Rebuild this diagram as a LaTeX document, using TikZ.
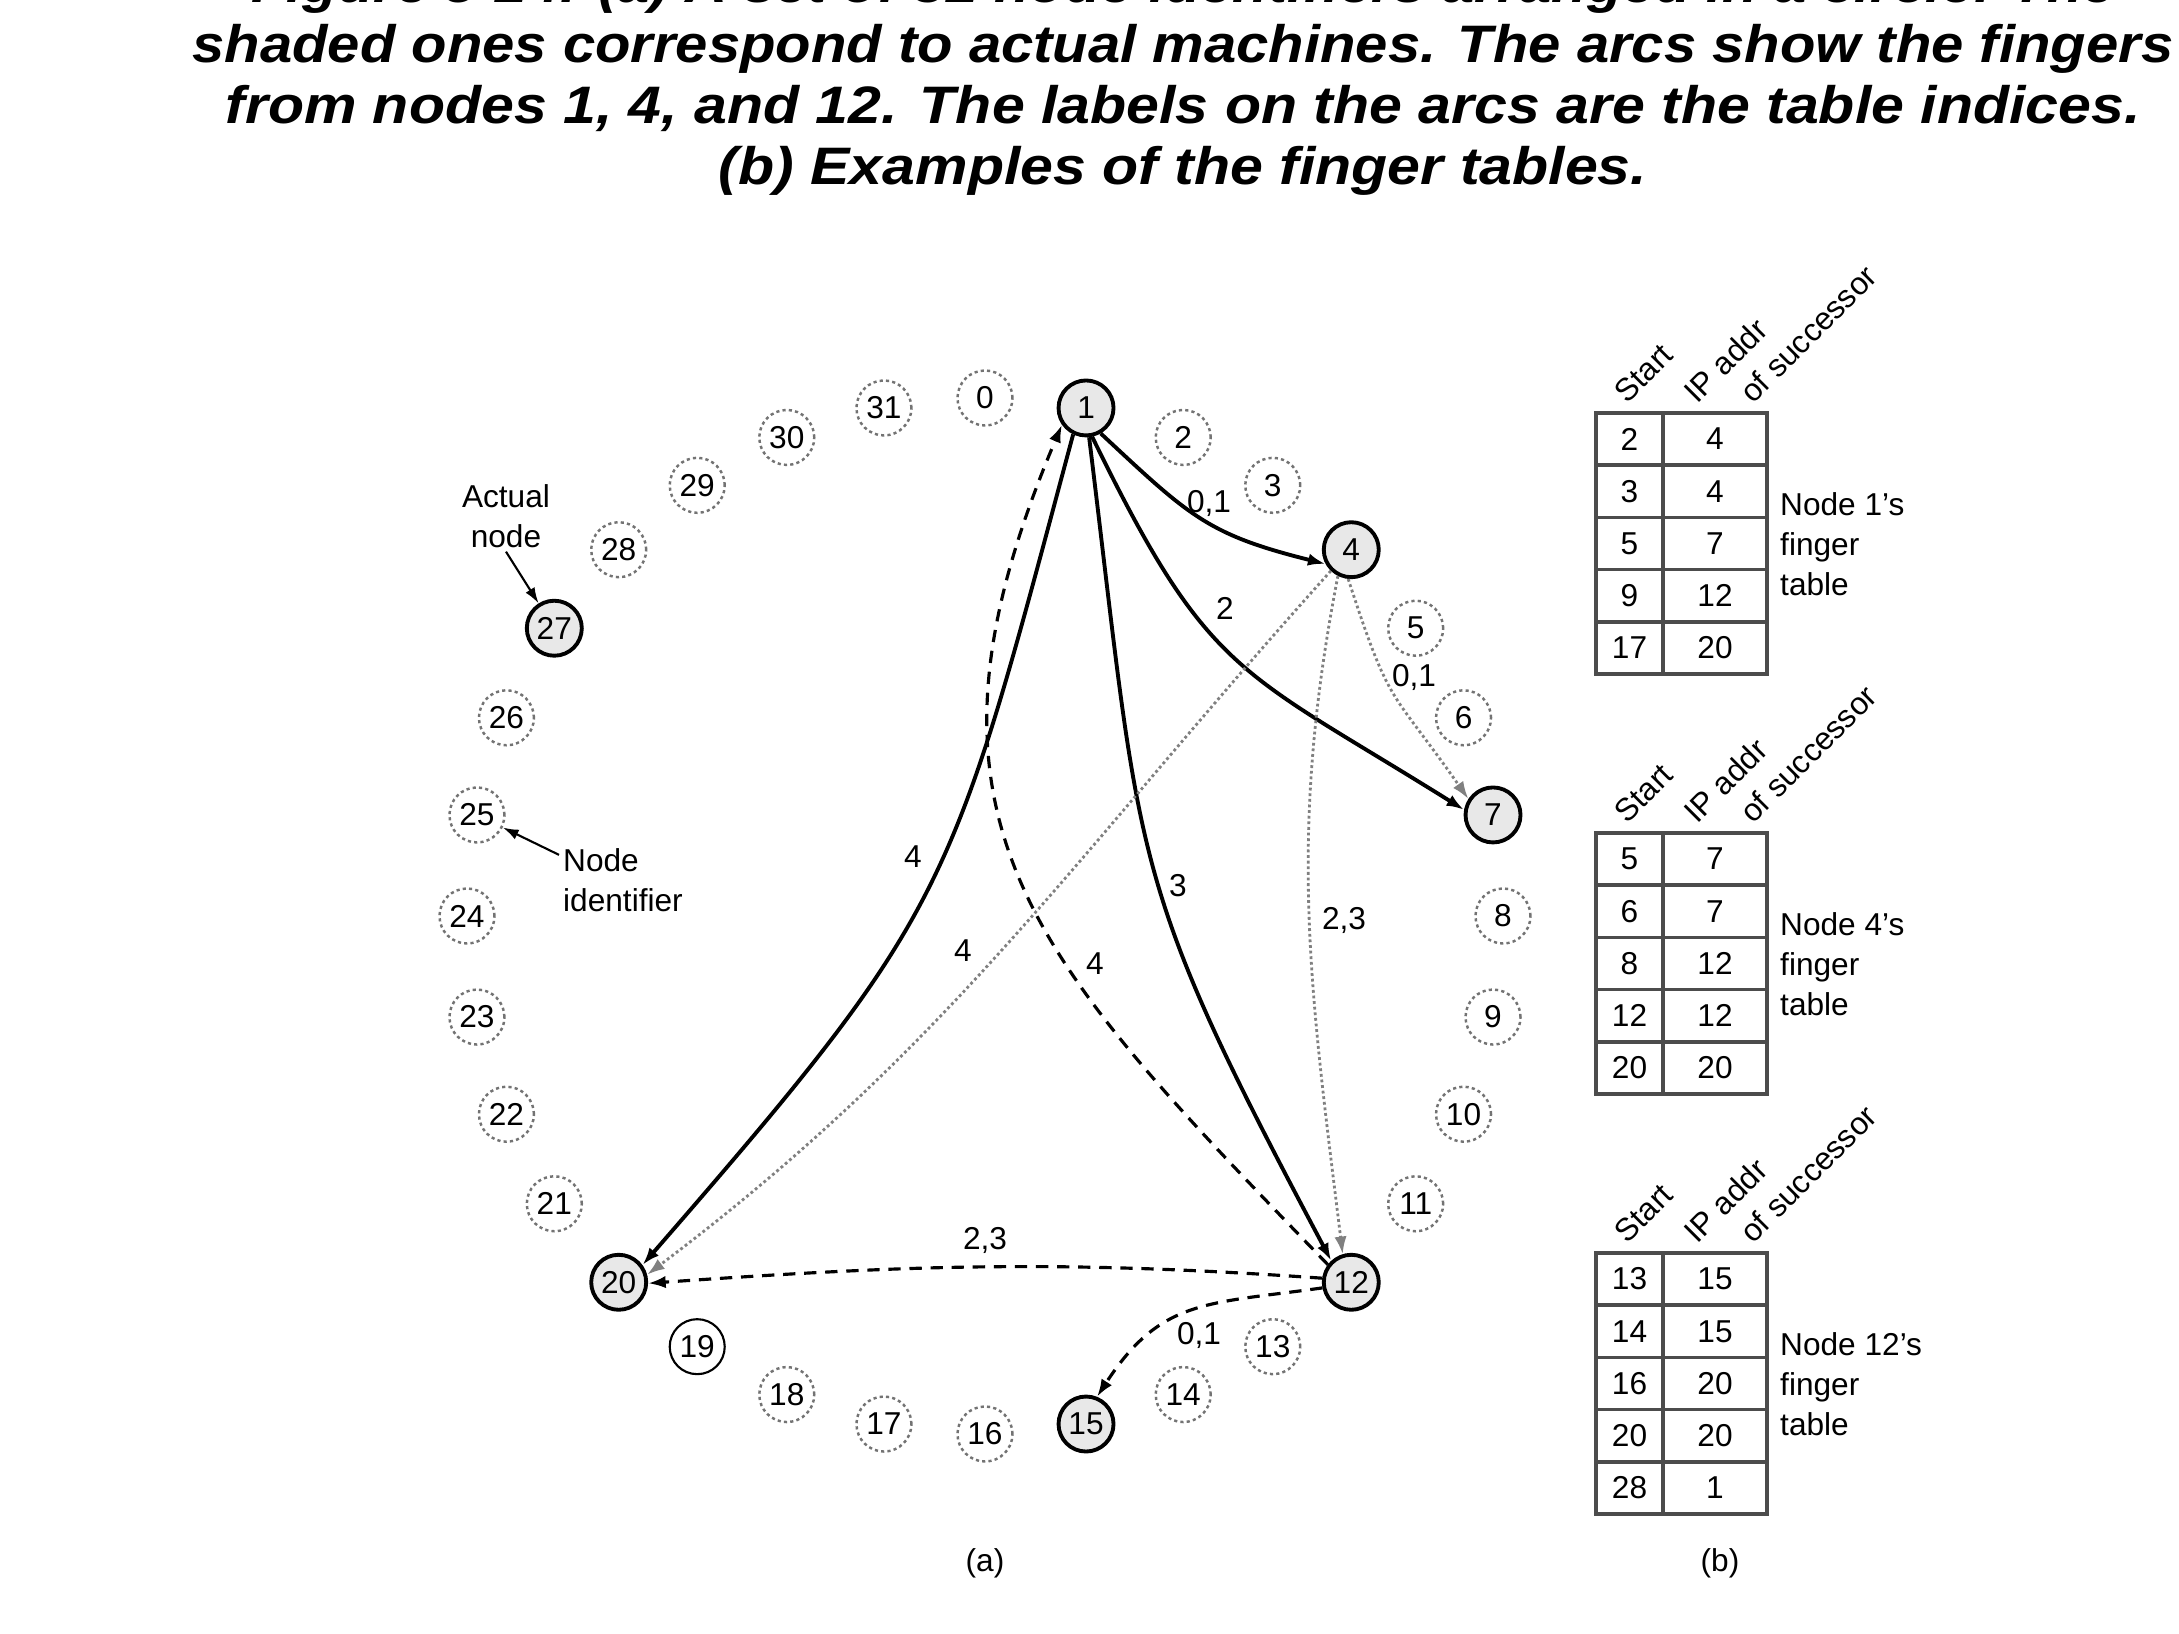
\documentclass[tikz,border=0pt]{standalone}
\usepackage{fontspec}
\setmainfont{Liberation Sans}
\usepackage{graphicx}
\usetikzlibrary{arrows.meta}

\begin{document}
\begin{tikzpicture}[
        font=\fontsize{9}{11.3}\selectfont,
        virt/.style={circle, draw=black!55, line width=0.7pt, dash pattern=on 0.9pt off 0.9pt, minimum size=0.55cm, inner sep=0pt},
        actual/.style={circle, draw=black, line width=1.1pt, fill=black!9, minimum size=0.55cm, inner sep=0pt},
        plain/.style={circle, draw=black, line width=0.6pt, minimum size=0.55cm, inner sep=0pt},
        tip/.style={-{Latex[length=5pt,width=3.5pt]}},
        fsolid/.style={tip, line width=1.1pt},
        fdash/.style={tip, line width=0.9pt, dash pattern=on 3.5pt off 2.5pt},
        fdot/.style={tip, draw=black!50, line width=0.8pt, dash pattern=on 0.8pt off 0.8pt},
        ptr/.style={-{Latex[length=4.5pt,width=3pt]}, line width=0.6pt},
        lbl/.style={inner sep=1pt},
        tbl/.style={draw=black!70, line width=1pt},
        cell/.style={inner sep=0pt},
        head/.style={rotate=45, anchor=base west, inner sep=0pt},
        caption/.style={font=\fontsize{15}{17}\selectfont\bfseries\itshape, anchor=base, inner sep=0pt}
    ]
        \useasboundingbox (-9.85,-7.18) rectangle (11.94,9.16);

        % --- Didascalia ---
        \node[caption] (cap1) at (1.98,9.13) {\scalebox{1.1}[1]{Figure 5-24. (a) A set of 32 node identifiers arranged in a circle. The}};
        \node[caption] (cap2) at (1.98,8.53) {\scalebox{1.1}[1]{shaded ones correspond to actual machines. The arcs show the fingers}};
        \node[caption] (cap3) at (1.98,7.92) {\scalebox{1.12}[1]{from nodes 1, 4, and 12. The labels on the arcs are the table indices.}};
        \node[caption] (cap4) at (1.98,7.31) {\scalebox{1.12}[1]{(b) Examples of the finger tables.}};

        % --- Cerchio dei 32 identificatori ---
        \foreach \i in {0,2,3,5,6,8,9,10,11,13,14,16,17,18,21,22,23,24,25,26,28,29,30,31}
            \node[virt] (n\i) at ({90-11.25*\i}:5.18) {\i};
        \foreach \i in {1,4,7,12,15,20,27}
            \node[actual] (n\i) at ({90-11.25*\i}:5.18) {\i};
        \node[plain] (n19) at ({90-11.25*19}:5.18) {19};

        % Etichette
        \node[lbl, align=center] (actual) at (-4.79,4.0) {Actual\\node};
        \draw[ptr] (actual.south) -- (n27);
        \node[lbl, anchor=west, align=left] (nodeid) at (-4.26,0.36) {Node\\identifier};
        \draw[ptr] ([yshift=-3pt]nodeid.north west) -- (n25);

        % --- Finger del nodo 1 ---
        \draw[fsolid] (n1.-60) to[out=-43, in=166, looseness=1.2] (n4.209);
        \draw[fsolid] (n1.-78) to[out=-64, in=148, looseness=1.3] (n7.170);
        \draw[fsolid] (n1.-84) to[out=-83, in=118, looseness=1.3] (n12.133);
        \draw[fsolid] (n1.-116) to[out=255, in=49, looseness=1.3] (n20.36);
        \node[lbl] (l1a) at (2.24,4.13) {0,1};
        \node[lbl] (l1b) at (2.40,3.08) {2};
        \node[lbl] (l1c) at (1.93,0.30) {3};
        \node[lbl] (l1d) at (-0.72,0.59) {4};

        % --- Finger del nodo 4 ---
        \draw[fdot] (n4.-96) to[out=-72, in=125, looseness=1.4] (n7.147);
        \draw[fdot] (n4.-117) to[out=-101, in=97] (n12.107);
        \draw[fdot] (n4.-134) to[out=228, in=37] (n20.15);
        \node[lbl] (l4a) at (4.29,2.39) {0,1};
        \node[lbl] (l4b) at (3.59,-0.04) {2,3};
        \node[lbl] (l4c) at (-0.22,-0.35) {4};

        % --- Finger del nodo 12 ---
        \draw[fdash] (n12.143) to[out=134, in=-113, looseness=1.25] (n1.-145);
        \draw[fdash] (n12.172) to[out=176, in=4] (n20.-2);
        \draw[fdash] (n12.191) to[out=188, in=57, looseness=1.2] (n15.68);
        \node[lbl] (l12a) at (1.10,-0.48) {4};
        \node[lbl] (l12b) at (0,-3.24) {2,3};
        \node[lbl] (l12c) at (2.14,-4.19) {0,1};

        \node (capa) at (0,-6.47) {(a)};

        % --- Tabella del nodo 1 ---
        \begin{scope}[shift={(6.11,5.03)}]
            \draw[tbl] (0,0) rectangle (1.71,-2.61);
            \draw[tbl] (0.67,0) -- (0.67,-2.61);
            \foreach \r in {1,...,4}
                \draw[tbl] (0,-0.522*\r) -- (1.71,-0.522*\r);
            \foreach \s/\ip [count=\r] in {2/4, 3/4, 5/7, 9/12, 17/20} {
                \node[cell] (t1s\r) at (0.335,{0.261-0.522*\r}) {\s};
                \node[cell] (t1p\r) at (1.19,{0.261-0.522*\r}) {\ip};
            }
            \node[head] (t1start) at (0.31,0.08) {Start};
            \node[head] (t1ip) at (1.01,0.08) {IP addr};
            \node[head] (t1of) at (1.57,0.08) {of successor};
            \node[lbl, anchor=west, align=left] (t1name) at (1.80,-1.31) {Node 1's\\finger\\table};
        \end{scope}

        % --- Tabella del nodo 4 ---
        \begin{scope}[shift={(6.11,0.83)}]
            \draw[tbl] (0,0) rectangle (1.71,-2.61);
            \draw[tbl] (0.67,0) -- (0.67,-2.61);
            \foreach \r in {1,...,4}
                \draw[tbl] (0,-0.522*\r) -- (1.71,-0.522*\r);
            \foreach \s/\ip [count=\r] in {5/7, 6/7, 8/12, 12/12, 20/20} {
                \node[cell] (t4s\r) at (0.335,{0.261-0.522*\r}) {\s};
                \node[cell] (t4p\r) at (1.19,{0.261-0.522*\r}) {\ip};
            }
            \node[head] (t4start) at (0.31,0.08) {Start};
            \node[head] (t4ip) at (1.01,0.08) {IP addr};
            \node[head] (t4of) at (1.57,0.08) {of successor};
            \node[lbl, anchor=west, align=left] (t4name) at (1.80,-1.31) {Node 4's\\finger\\table};
        \end{scope}

        % --- Tabella del nodo 12 ---
        \begin{scope}[shift={(6.11,-3.37)}]
            \draw[tbl] (0,0) rectangle (1.71,-2.61);
            \draw[tbl] (0.67,0) -- (0.67,-2.61);
            \foreach \r in {1,...,4}
                \draw[tbl] (0,-0.522*\r) -- (1.71,-0.522*\r);
            \foreach \s/\ip [count=\r] in {13/15, 14/15, 16/20, 20/20, 28/1} {
                \node[cell] (t12s\r) at (0.335,{0.261-0.522*\r}) {\s};
                \node[cell] (t12p\r) at (1.19,{0.261-0.522*\r}) {\ip};
            }
            \node[head] (t12start) at (0.31,0.08) {Start};
            \node[head] (t12ip) at (1.01,0.08) {IP addr};
            \node[head] (t12of) at (1.57,0.08) {of successor};
            \node[lbl, anchor=west, align=left] (t12name) at (1.80,-1.31) {Node 12's\\finger\\table};
        \end{scope}

        \node (capb) at (7.35,-6.47) {(b)};
    \end{tikzpicture}
\end{document}
